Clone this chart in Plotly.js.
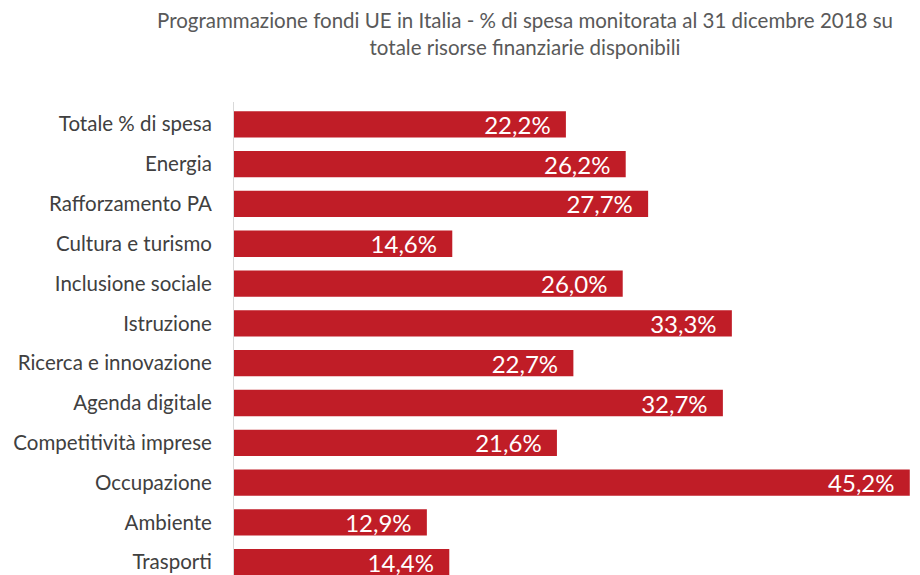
<!DOCTYPE html>
<html>
<head>
<meta charset="utf-8">
<script src="https://cdn.plot.ly/plotly-3.0.1.min.js"></script>
<style>
  html, body { margin: 0; padding: 0; background: #fff; overflow: hidden; }
  #plot { width: 920px; height: 575px; }
</style>
</head>
<body>
<div id="plot"></div>
<script>
// Settori e % di spesa monitorata
var settori = [
  "Totale % di spesa", "Energia", "Rafforzamento PA", "Cultura e turismo",
  "Inclusione sociale", "Istruzione", "Ricerca e innovazione", "Agenda digitale",
  "Competitività imprese", "Occupazione", "Ambiente", "Trasporti"
];
var spesa = [22.2, 26.2, 27.7, 14.6, 26.0, 33.3, 22.7, 32.7, 21.6, 45.2, 12.9, 14.4];
// etichette in formato italiano, con un po' di spazio a destra
var etichette = spesa.map(v => v.toFixed(1).replace(".", ",") + "%\u00a0\u00a0");

var trace = {
  type: "bar",
  orientation: "h",
  x: spesa,
  y: settori,
  text: etichette,
  textposition: "inside",
  insidetextanchor: "end",
  constraintext: "none",
  textfont: { family: "Lato, sans-serif", size: 24, color: "#ffffff" },
  marker: { color: "#c01d27" },
  width: 0.66,
  hoverinfo: "none"
};

var layout = {
  width: 920,
  height: 575,
  margin: { l: 234, r: 5, t: 102, b: 0 },
  paper_bgcolor: "#ffffff",
  plot_bgcolor: "#ffffff",
  showlegend: false,
  title: {
    text: "Programmazione fondi UE in Italia - % di spesa monitorata al 31 dicembre 2018 su<br>totale risorse finanziarie disponibili",
    font: { family: "Lato, sans-serif", size: 20.5, color: "#595959" },
    x: 0.5707, xanchor: "center",
    y: 0.9505, yanchor: "middle"
  },
  xaxis: {
    range: [0, 45.55],
    visible: false,
    fixedrange: true
  },
  yaxis: {
    type: "category",
    range: [11.32, -0.56],
    showline: true,
    linecolor: "#d9d9d9",
    linewidth: 1,
    ticks: "",
    ticklabelstandoff: 17,
    showgrid: false,
    tickfont: { family: "Lato, sans-serif", size: 20.5, color: "#404040" },
    fixedrange: true
  }
};

Plotly.newPlot("plot", [trace], layout, { displayModeBar: false, staticPlot: true });
</script>
</body>
</html>
